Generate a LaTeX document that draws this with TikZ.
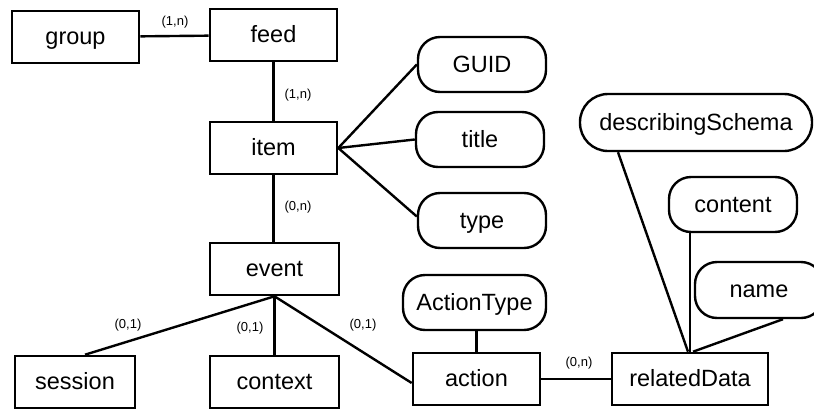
\documentclass[tikz,border=0pt]{standalone}
\usepackage{fontspec}
\setmainfont{Liberation Sans}
\usetikzlibrary{calc}
\begin{document}
\begin{tikzpicture}[x=1pt,y=-1pt,
  ent/.style={draw,line width=2.6pt,rectangle,minimum height=52pt,inner sep=0pt,text height=17pt,text depth=2pt,font=\fontsize{23.5}{27}\selectfont},
  attr/.style={draw,line width=2.4pt,rectangle,rounded corners=22pt,minimum height=55pt,inner sep=0pt,text height=17pt,text depth=2pt,font=\fontsize{23.5}{27}\selectfont},
  card/.style={inner sep=0pt,font=\fontsize{13}{15}\selectfont},
  conn/.style={line width=2.4pt}]
\useasboundingbox (0,0) rectangle (814,410);
\fill[white] (0,0) rectangle (814,410);
% entities
\node[ent,minimum width=127pt] (group) at (75.5,37) {group};
\node[ent,minimum width=127pt] (feed) at (273.5,35) {feed};
\node[ent,minimum width=127pt] (item) at (273.5,148) {item};
\node[ent,minimum width=129pt] (event) at (274.5,269) {event};
\node[ent,minimum width=120pt] (session) at (75,382) {session};
\node[ent,minimum width=129pt] (context) at (274.5,382) {context};
\node[ent,minimum width=127pt] (action) at (476.5,379) {action};
\node[ent,minimum width=156pt] (related) at (690,379) {relatedData};
% attributes
\node[attr,minimum width=128pt] (guid) at (482,64.5) {GUID};
\node[attr,minimum width=128pt] (title) at (480,139.5) {title};
\node[attr,minimum width=128pt] (type) at (482,220.5) {type};
\node[attr,minimum width=143pt] (atype) at (474.5,302.5) {ActionType};
\node[attr,minimum width=232pt,minimum height=57pt,rounded corners=28pt] (schema) at (696,122.5) {describingSchema};
\node[attr,minimum width=128pt] (content) at (733,204.5) {content};
\node[attr,minimum width=128pt,minimum height=56pt] (name) at (759,290) {name};
% connectors
\draw[conn] (group) -- (feed);
\draw[conn] (feed) -- (item);
\draw[conn] (item.south) -- (item.south |- event.north);
\draw[conn] (item.east) -- (guid.west);
\draw[conn] (item.east) -- (title.west);
\draw[conn] (item.east) -- ([yshift=4pt]type.west);
\draw[conn] (event.south) -- ([xshift=10pt]session.north);
\draw[conn] (event.south) -- (context.north);
\draw[conn] (event.south) -- ([yshift=-4pt]action.west);
\draw[conn] (action.north |- atype.south) -- (action.north);
\draw[conn] (action) -- (related);
\draw[conn] ([xshift=-78pt]schema.south) -- ([xshift=-2pt]related.north);
\draw[conn] (content.south -| related.north) -- (related.north);
\draw[conn] ([xshift=24pt]name.south) -- ([xshift=3pt]related.north);
% cardinalities
\node[card] (c1) at (175,22) {(1,n)};
\node[card] (c2) at (298,95) {(1,n)};
\node[card] (c3) at (298,207) {(0,n)};
\node[card] (c4) at (128,325) {(0,1)};
\node[card] (c5) at (250,328) {(0,1)};
\node[card] (c6) at (363,325) {(0,1)};
\node[card] (c7) at (579,363) {(0,n)};
\end{tikzpicture}
\end{document}
